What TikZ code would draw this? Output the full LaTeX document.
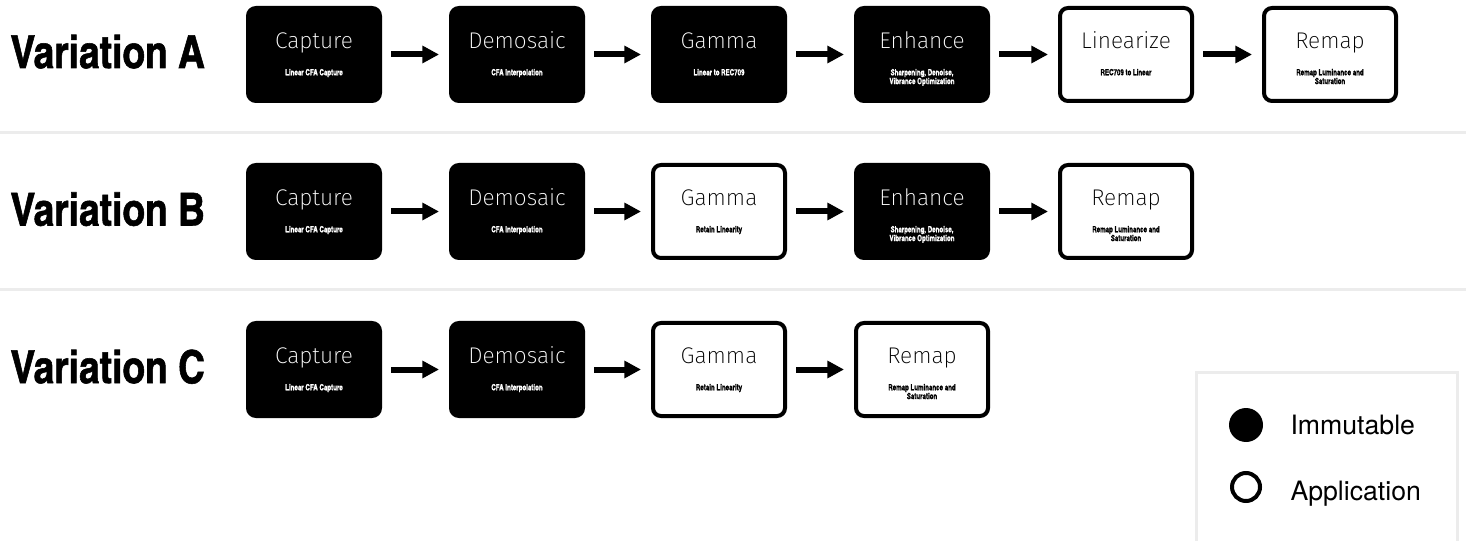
\documentclass[tikz,border=0pt]{standalone}
\usepackage{fontspec}
\setmainfont{TeX Gyre Heros}
\newfontfamily\condfont[FakeBold=1.2]{texgyreheroscn-bold.otf}
\newfontfamily\subfont[FakeBold=1,FakeStretch=0.88]{texgyreheroscn-bold.otf}
\IfFontExistsTF{Fira Sans ExtraLight}{\newfontfamily\thinfont{Fira Sans ExtraLight}}{\newfontfamily\thinfont{Fira Sans Light}}
\usetikzlibrary{arrows.meta}

\definecolor{sepgray}{RGB}{236,236,236}

\tikzset{every picture/.style={line width=0.75pt},
  stage/.style={rectangle, rounded corners=6pt, line width=3pt, minimum width=99pt, minimum height=69.75pt, inner sep=0pt},
  immut/.style={stage, draw=black, fill=black},
  appl/.style={stage, draw=black, fill=white},
  stage title/.style={anchor=base, inner sep=0pt, font=\thinfont\fontsize{17}{20}\selectfont},
  stage sub/.style={anchor=north, inner sep=0pt, align=center, font=\subfont\fontsize{6.4}{6.6}\selectfont},
  immut title/.style={stage title, text=white},
  immut sub/.style={stage sub, text=white},
  appl title/.style={stage title, text=black},
  appl sub/.style={stage sub, text=black},
  flow/.style={line width=4.5pt, -{Triangle[length=12.5pt,width=12.5pt]}, shorten <=6.75pt, shorten >=7.5pt},
  varlabel/.style={anchor=base west, inner sep=0pt, font=\condfont\fontsize{34}{40}\selectfont},
  sep/.style={draw=sepgray, line width=2.25pt},
  legendtext/.style={anchor=base west, inner sep=0pt, font=\fontsize{20}{24}\selectfont}
}
% box, its name and its two lines of text (y runs downwards)
\newcommand{\stagebox}[5]{%
  \node [#2] (#1) at (#3) {};
  \node [#2 title] (#1t) at ([yshift=-4.5pt]#1.center) {#4};
  \node [#2 sub] (#1s) at ([yshift=10.5pt]#1.center) {#5};
}

\begin{document}
\begin{tikzpicture}[x=0.75pt,y=0.75pt,yscale=-1,xscale=1]
\useasboundingbox (0,0) rectangle (1466,541);

%Straight Lines [separators]
\draw [sep] (0,132.5) -- (1466,132.5) ;
\draw [sep] (0,290) -- (1466,290) ;
%Shape: Rectangle [legend frame]
\draw [sep] (1196,372) rectangle (1457,560) ;

% Variation A
\node [varlabel] (varA) at (10,68) {Variation A};
\stagebox{A1}{immut}{314,54.5}{Capture}{Linear CFA Capture}
\stagebox{A2}{immut}{517,54.5}{Demosaic}{CFA Interpolation}
\stagebox{A3}{immut}{719,54.5}{Gamma}{Linear to REC709}
\stagebox{A4}{immut}{922,54.5}{Enhance}{Sharpening, Denoise,\\Vibrance Optimization}
\stagebox{A5}{appl}{1126,54.5}{Linearize}{REC709 to Linear}
\stagebox{A6}{appl}{1330,54.5}{Remap}{Remap Luminance and\\Saturation}
\draw [flow] (A1.east) -- (A2.west) ;
\draw [flow] (A2.east) -- (A3.west) ;
\draw [flow] (A3.east) -- (A4.west) ;
\draw [flow] (A4.east) -- (A5.west) ;
\draw [flow] (A5.east) -- (A6.west) ;

% Variation B
\node [varlabel] (varB) at (10,225.5) {Variation B};
\stagebox{B1}{immut}{314,211.5}{Capture}{Linear CFA Capture}
\stagebox{B2}{immut}{517,211.5}{Demosaic}{CFA Interpolation}
\stagebox{B3}{appl}{719,211.5}{Gamma}{Retain Linearity}
\stagebox{B4}{immut}{922,211.5}{Enhance}{Sharpening, Denoise,\\Vibrance Optimization}
\stagebox{B5}{appl}{1126,211.5}{Remap}{Remap Luminance and\\Saturation}
\draw [flow] (B1.east) -- (B2.west) ;
\draw [flow] (B2.east) -- (B3.west) ;
\draw [flow] (B3.east) -- (B4.west) ;
\draw [flow] (B4.east) -- (B5.west) ;

% Variation C
\node [varlabel] (varC) at (10,383) {Variation C};
\stagebox{C1}{immut}{314,369.5}{Capture}{Linear CFA Capture}
\stagebox{C2}{immut}{517,369.5}{Demosaic}{CFA Interpolation}
\stagebox{C3}{appl}{719,369.5}{Gamma}{Retain Linearity}
\stagebox{C4}{appl}{922,369.5}{Remap}{Remap Luminance and\\Saturation}
\draw [flow] (C1.east) -- (C2.west) ;
\draw [flow] (C2.east) -- (C3.west) ;
\draw [flow] (C3.east) -- (C4.west) ;

% Legend
\node [circle, fill=black, inner sep=0pt, minimum size=25.5pt] (immdot) at (1246,425) {};
\node [circle, draw=black, line width=3pt, inner sep=0pt, minimum size=21pt] (appdot) at (1246,487) {};
\node [legendtext] (immtext) at (1290,434) {Immutable};
\node [legendtext] (apptext) at (1290,500) {Application};

\end{tikzpicture}
\end{document}
